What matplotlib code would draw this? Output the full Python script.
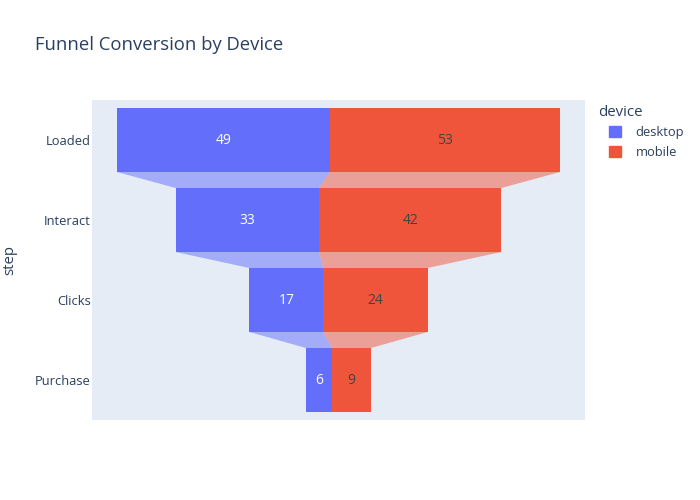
import numpy as np
import matplotlib.pyplot as plt
from matplotlib.patches import Patch

plt.rcParams['font.family'] = ['Open Sans', 'DejaVu Sans']

steps = ["Loaded", "Interact", "Clicks", "Purchase"]
devices = ["desktop", "mobile"]
desktop = [49, 33, 17, 6]
mobile = [53, 42, 24, 9]
colors = {"desktop": "#636EFA", "mobile": "#EF553B"}
text_colors = {"desktop": "white", "mobile": "#444444"}

bg = "#E5ECF6"
font_color = "#2a3f5f"
bar_w = 0.8

fig = plt.figure(figsize=(7, 5), dpi=100)
ax = fig.add_axes([92/700, 0.16, 493/700, 0.64])
ax.set_facecolor(bg)

d = np.array(desktop, dtype=float)
m = np.array(mobile, dtype=float)
total = d + m
left = -total / 2
mid = left + d
right = left + total
y = np.arange(len(steps))

segs = {"desktop": (left, mid), "mobile": (mid, right)}
for dev in devices:
    lo, hi = segs[dev]
    ax.barh(y, hi - lo, left=lo, height=bar_w, color=colors[dev],
            linewidth=0, zorder=3)
    # connectors between steps
    for i in range(len(steps) - 1):
        yb = y[i] + bar_w / 2
        yt = y[i + 1] - bar_w / 2
        ax.fill([lo[i], hi[i], hi[i + 1], lo[i + 1]], [yb, yb, yt, yt],
                color=colors[dev], alpha=0.5, linewidth=0, zorder=2)
    vals = desktop if dev == "desktop" else mobile
    for i, v in enumerate(vals):
        ax.text((lo[i] + hi[i]) / 2, y[i], str(v), ha="center", va="center",
                color=text_colors[dev], fontsize=10, zorder=4)

ax.set_xlim(-56.75, 56.75)
ax.set_ylim(len(steps) - 0.5, -0.5)
ax.set_yticks(y)
ax.set_yticklabels(steps, fontsize=9.3, color=font_color)
ax.set_xticks([])
ax.tick_params(axis="y", length=0, pad=1)
for s in ax.spines.values():
    s.set_visible(False)

fig.text(10/700, 1 - 260/500, "step", rotation=90, ha="center", va="center",
         fontsize=10.8, color=font_color)
fig.text(35/700, 1 - 45/500, "Funnel Conversion by Device", ha="left",
         va="center", fontsize=13.3, color=font_color)

# legend
fig.text(598/700, 1 - 113/500, "device", ha="left", va="center",
         fontsize=10.8, color=font_color)
handles = [Patch(color=colors[k], label=k) for k in devices]
leg = fig.legend(handles=handles, loc="upper left",
                 bbox_to_anchor=(604/700, 1 - 121/500), frameon=False,
                 fontsize=9.3, handlelength=0.95, handleheight=0.95,
                 labelspacing=0.5, handletextpad=1.1, borderaxespad=0,
                 labelcolor=font_color)

fig.savefig("out.png", dpi=100)
